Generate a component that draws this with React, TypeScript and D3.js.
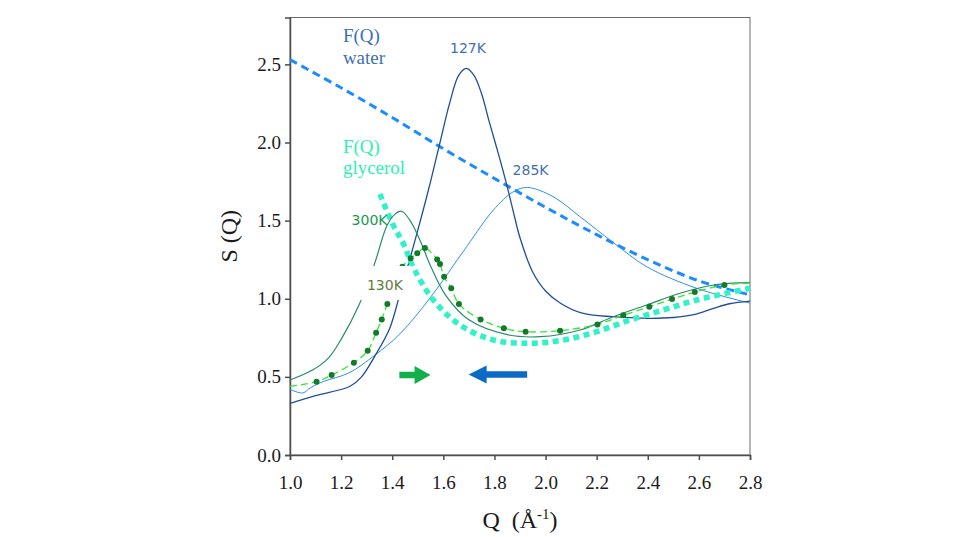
import React, { useEffect, useRef } from 'react';
import * as d3 from 'd3';

// S(Q) of water (127K, 285K) and glycerol (130K, 300K), plus F(Q) form factors
const xTicks = [1.0, 1.2, 1.4, 1.6, 1.8, 2.0, 2.2, 2.4, 2.6, 2.8];
const yTicks = [0.0, 0.5, 1.0, 1.5, 2.0, 2.5];

const qWaterF = [1.0, 1.2, 1.4, 1.6, 1.8, 2.0, 2.2, 2.4, 2.6, 2.8];
const sWaterF = [2.53, 2.35, 2.16, 1.96, 1.77, 1.585, 1.41, 1.25, 1.115, 1.025];

const q127 = [1.0, 1.1, 1.235, 1.28, 1.333, 1.39, 1.43, 1.47, 1.52, 1.55, 1.587, 1.626, 1.66, 1.69, 1.72, 1.75, 1.78, 1.815, 1.848, 1.875, 1.9, 1.95, 2.0, 2.06, 2.14, 2.26, 2.4, 2.5, 2.58, 2.66, 2.72, 2.8];
const s127 = [0.33, 0.38, 0.44, 0.5, 0.636, 0.81, 1.03, 1.26, 1.56, 1.75, 2.0, 2.26, 2.43, 2.475, 2.43, 2.31, 2.13, 1.93, 1.73, 1.55, 1.39, 1.17, 1.05, 0.97, 0.91, 0.885, 0.875, 0.88, 0.898, 0.94, 0.968, 0.985];

const q285 = [1.0, 1.05, 1.08, 1.13, 1.23, 1.333, 1.43, 1.548, 1.691, 1.796, 1.874, 1.93, 2.03, 2.135, 2.265, 2.396, 2.591, 2.8];
const s285 = [0.42, 0.397, 0.43, 0.47, 0.525, 0.64, 0.775, 1.005, 1.333, 1.568, 1.685, 1.712, 1.653, 1.525, 1.36, 1.205, 1.067, 0.972];

const q300 = [1.0, 1.09, 1.15, 1.2, 1.27, 1.33, 1.38, 1.41, 1.437, 1.47, 1.51, 1.55, 1.61, 1.7, 1.85, 1.98, 2.135, 2.265, 2.396, 2.526, 2.657, 2.8];
const s300 = [0.48, 0.545, 0.62, 0.74, 0.96, 1.22, 1.47, 1.54, 1.56, 1.5, 1.37, 1.21, 1.02, 0.865, 0.77, 0.757, 0.8, 0.885, 0.96, 1.035, 1.088, 1.103];

// 130K: measured points (markers); the dashed line runs from Q=1.0 to 2.8
const q130 = [1.104, 1.163, 1.25, 1.304, 1.337, 1.359, 1.381, 1.44, 1.472, 1.498, 1.528, 1.576, 1.587, 1.603, 1.631, 1.661, 1.746, 1.837, 1.922, 2.057, 2.203, 2.304, 2.406, 2.495, 2.584, 2.7];
const s130 = [0.469, 0.512, 0.591, 0.668, 0.783, 0.868, 0.966, 1.205, 1.259, 1.291, 1.325, 1.252, 1.222, 1.141, 1.067, 0.966, 0.868, 0.811, 0.789, 0.796, 0.836, 0.894, 0.949, 0.998, 1.043, 1.088];
const q130Ends = [1.0, 2.8];
const s130Ends = [0.44, 1.1];

const qGlyF = [1.352, 1.404, 1.443, 1.483, 1.561, 1.665, 1.796, 1.939, 2.07, 2.2, 2.33, 2.461, 2.591, 2.8];
const sGlyF = [1.67, 1.47, 1.355, 1.2, 0.992, 0.832, 0.736, 0.715, 0.736, 0.789, 0.864, 0.928, 0.992, 1.067];

const W = 955;
const H = 537;
const serif = '"Liberation Serif", "Times New Roman", serif';
const sans = '"DejaVu Sans", Verdana, sans-serif';

const zip = (q: number[], s: number[]) => q.map((v, i) => [v, s[i]] as [number, number]);

export default function App() {
  const svgRef = useRef<SVGSVGElement>(null);

  useEffect(() => {
    if (!svgRef.current) return;
    const svg = d3.select(svgRef.current);
    svg.selectAll('*').remove();

    const x = d3.scaleLinear().domain([1.0, 2.8]).range([290, 750]);
    const y = d3.scaleLinear().domain([0, 2.8]).range([455, 17.5]);

    const line = d3.line<[number, number]>()
      .x(d => x(d[0]))
      .y(d => y(d[1]))
      .curve(d3.curveCatmullRom.alpha(0.5));

    // frame
    svg.append('rect')
      .attr('x', x(1.0)).attr('y', y(2.8))
      .attr('width', x(2.8) - x(1.0)).attr('height', y(0) - y(2.8))
      .attr('fill', 'none').attr('stroke', '#6b6b6b').attr('stroke-width', 1);

    // axes
    const xAxis = svg.append('g').attr('transform', `translate(0,${y(0)})`)
      .call(d3.axisBottom(x).tickValues(xTicks).tickSize(5).tickFormat(d3.format('.1f')));
    const yAxis = svg.append('g').attr('transform', `translate(${x(1.0)},0)`)
      .call(d3.axisLeft(y).tickValues(yTicks).tickSize(5).tickFormat(d3.format('.1f')));
    [xAxis, yAxis].forEach(a => {
      a.select('.domain').attr('stroke', '#4d4d4d').attr('stroke-width', 1.5);
      a.selectAll('.tick line').attr('stroke', '#4d4d4d').attr('stroke-width', 1.5);
      a.selectAll('.tick text')
        .attr('fill', '#1a1a1a')
        .style('font-family', serif)
        .style('font-size', '19px');
    });
    xAxis.selectAll('.tick text').attr('dy', null).attr('y', 34);
    yAxis.selectAll('.tick text').attr('x', -9);

    // F(Q) water
    svg.append('path')
      .attr('d', line(zip(qWaterF, sWaterF)))
      .attr('fill', 'none').attr('stroke', '#1a8cff')
      .attr('stroke-width', 3).attr('stroke-dasharray', '8,5');

    // 285K
    svg.append('path')
      .attr('d', line(zip(q285, s285)))
      .attr('fill', 'none').attr('stroke', '#2e8ff0').attr('stroke-width', 1);

    // 127K
    svg.append('path')
      .attr('d', line(zip(q127, s127)))
      .attr('fill', 'none').attr('stroke', '#1f4e9c').attr('stroke-width', 1.3);

    // F(Q) glycerol
    svg.append('path')
      .attr('d', line(zip(qGlyF, sGlyF)))
      .attr('fill', 'none').attr('stroke', '#2ff2c8')
      .attr('stroke-width', 5.5).attr('stroke-dasharray', '6,4.5');

    // 300K
    svg.append('path')
      .attr('d', line(zip(q300, s300)))
      .attr('fill', 'none').attr('stroke', '#2a8a6e').attr('stroke-width', 1.2);

    // 130K
    const pts130 = [[q130Ends[0], s130Ends[0]] as [number, number], ...zip(q130, s130), [q130Ends[1], s130Ends[1]] as [number, number]];
    svg.append('path')
      .attr('d', line(pts130))
      .attr('fill', 'none').attr('stroke', '#33e633')
      .attr('stroke-width', 1.3).attr('stroke-dasharray', '7,4');
    svg.append('g').selectAll('circle')
      .data(zip(q130, s130))
      .enter().append('circle')
      .attr('cx', d => x(d[0])).attr('cy', d => y(d[1]))
      .attr('r', 3).attr('fill', '#137a2a');

    // arrows
    const arrow = (q0: number, q1: number, s: number, head: number, color: string) => {
      const x0 = x(q0), x1 = x(q1), yc = y(s);
      const dir = Math.sign(x1 - x0);
      const xh = x1 - dir * head;
      const p = d3.path();
      p.moveTo(x0, yc - 3.2);
      p.lineTo(xh, yc - 3.2);
      p.lineTo(xh, yc - 9);
      p.lineTo(x1, yc);
      p.lineTo(xh, yc + 9);
      p.lineTo(xh, yc + 3.2);
      p.lineTo(x0, yc + 3.2);
      p.closePath();
      svg.append('path').attr('d', p.toString()).attr('fill', color);
    };
    arrow(1.428, 1.55, 0.512, 16, '#12b04c');
    arrow(1.928, 1.699, 0.515, 18, '#0a6cc4');

    // white box behind the 130K label
    svg.append('rect')
      .attr('x', x(1.266)).attr('y', y(1.21))
      .attr('width', x(1.477) - x(1.266)).attr('height', y(0.992) - y(1.21))
      .attr('fill', '#ffffff');

    const label = (txt: string, q: number, s: number, color: string, font: string, size: number) =>
      svg.append('text')
        .attr('x', x(q)).attr('y', y(s))
        .attr('fill', color)
        .style('font-family', font)
        .style('font-size', `${size}px`)
        .text(txt);

    label('F(Q)', 1.207, 2.645, '#3c70b8', serif, 19);
    label('water', 1.207, 2.502, '#3c70b8', serif, 19);
    label('127K', 1.626, 2.573, '#4170b5', sans, 14);
    label('285K', 1.871, 1.792, '#4170b5', sans, 14);
    label('F(Q)', 1.207, 1.933, '#2ef0b4', serif, 19);
    label('glycerol', 1.207, 1.80, '#2ef0b4', serif, 19);
    label('300K', 1.241, 1.472, '#16994f', sans, 14);
    label('130K', 1.301, 1.056, '#5e7e3e', sans, 14);

    // axis titles
    svg.append('text')
      .attr('transform', `translate(${x(1.0) - 53},${(y(0) + y(2.8)) / 2}) rotate(-90)`)
      .attr('text-anchor', 'middle')
      .attr('fill', '#1a1a1a')
      .style('font-family', serif)
      .style('font-size', '24px')
      .text('S (Q)');

    const xt = svg.append('text')
      .attr('x', (x(1.0) + x(2.8)) / 2).attr('y', 528)
      .attr('text-anchor', 'middle')
      .attr('fill', '#1a1a1a')
      .style('font-family', serif)
      .style('font-size', '24px')
      .attr('xml:space', 'preserve');
    xt.append('tspan').text('Q  (Å');
    xt.append('tspan').attr('dy', -9).style('font-size', '15px').text('-1');
    xt.append('tspan').attr('dy', 9).text(')');
  }, []);

  return (
    <svg
      ref={svgRef}
      width={W}
      height={H}
      style={{ position: 'absolute', left: 0, top: 0, background: '#fff' }}
    />
  );
}
